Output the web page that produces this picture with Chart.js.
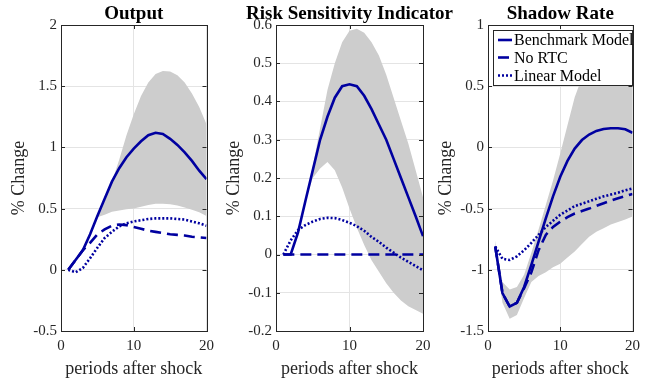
<!DOCTYPE html>
<html>
<head>
<meta charset="utf-8">
<script src="https://cdn.jsdelivr.net/npm/chart.js@4.4.0/dist/chart.umd.min.js"></script>
<style>
  body { margin: 0; background: #fff; overflow: hidden; }
  #wrap { position: relative; width: 646px; height: 383px; }
  canvas { position: absolute; top: 0; }
</style>
</head>
<body>
<div id="wrap">
  <canvas id="outputChart" width="220" height="383" style="left:0px"></canvas>
  <canvas id="riskChart" width="243" height="383" style="left:215px"></canvas>
  <canvas id="shadowChart" width="219" height="383" style="left:427px"></canvas>
</div>
<script>
// impulse responses, periods 1..20
const periods = [1, 2, 3, 4, 5, 6, 7, 8, 9, 10, 11, 12, 13, 14, 15, 16, 17, 18, 19, 20];
const seriesLabels = ['Benchmark Model', 'No RTC', 'Linear Model'];

const outputBenchmark = [0, 0.08, 0.16, 0.29, 0.44, 0.58, 0.72, 0.83, 0.92, 0.99, 1.05, 1.10, 1.12, 1.11, 1.07, 1.02, 0.96, 0.89, 0.81, 0.74];
const outputNoRtc = [0, 0.08, 0.16, 0.22, 0.29, 0.33, 0.36, 0.37, 0.365, 0.35, 0.335, 0.32, 0.31, 0.30, 0.29, 0.285, 0.28, 0.27, 0.265, 0.26];
const outputLinear = [0, -0.02, 0.015, 0.095, 0.18, 0.26, 0.31, 0.355, 0.38, 0.395, 0.405, 0.415, 0.42, 0.42, 0.42, 0.415, 0.41, 0.395, 0.38, 0.36];
const outputUpper = [0, 0.08, 0.16, 0.29, 0.45, 0.56, 0.72, 0.90, 1.10, 1.27, 1.42, 1.53, 1.60, 1.625, 1.62, 1.59, 1.53, 1.44, 1.33, 1.19];
const outputLower = [0, 0.08, 0.16, 0.29, 0.43, 0.45, 0.475, 0.485, 0.495, 0.50, 0.515, 0.53, 0.54, 0.54, 0.535, 0.525, 0.51, 0.49, 0.47, 0.44];

const riskBenchmark = [0, 0, 0.058, 0.14, 0.22, 0.30, 0.36, 0.41, 0.44, 0.445, 0.44, 0.415, 0.38, 0.34, 0.30, 0.25, 0.20, 0.15, 0.10, 0.048];
const riskNoRtc = [0, 0, 0, 0, 0, 0, 0, 0, 0, 0, 0, 0, 0, 0, 0, 0, 0, 0, 0, 0];
const riskLinear = [0, 0.037, 0.064, 0.077, 0.086, 0.093, 0.096, 0.095, 0.09, 0.083, 0.074, 0.062, 0.046, 0.033, 0.018, 0.005, -0.008, -0.019, -0.03, -0.041];
const riskUpper = [0, 0, 0.058, 0.14, 0.23, 0.33, 0.43, 0.50, 0.555, 0.585, 0.59, 0.58, 0.555, 0.52, 0.47, 0.41, 0.35, 0.29, 0.22, 0.15];
const riskLower = [0, 0, 0.058, 0.14, 0.20, 0.225, 0.242, 0.22, 0.175, 0.12, 0.07, 0.025, -0.015, -0.045, -0.075, -0.10, -0.12, -0.135, -0.145, -0.155];

const shadowBenchmark = [-0.81, -1.19, -1.30, -1.27, -1.14, -0.96, -0.77, -0.58, -0.40, -0.24, -0.11, -0.01, 0.06, 0.105, 0.135, 0.15, 0.157, 0.157, 0.148, 0.12];
const shadowNoRtc = [-0.81, -1.19, -1.30, -1.27, -1.15, -1.02, -0.84, -0.715, -0.65, -0.606, -0.57, -0.54, -0.52, -0.5, -0.478, -0.456, -0.435, -0.415, -0.397, -0.38];
const shadowLinear = [-0.81, -0.91, -0.92, -0.89, -0.84, -0.78, -0.715, -0.65, -0.60, -0.55, -0.515, -0.48, -0.46, -0.44, -0.42, -0.40, -0.385, -0.37, -0.35, -0.335];
const shadowUpper = [-0.76, -1.10, -1.16, -1.14, -1.04, -0.86, -0.67, -0.47, -0.27, -0.05, 0.18, 0.41, 0.57, 0.69, 0.77, 0.83, 0.87, 0.89, 0.89, 0.87];
const shadowLower = [-0.85, -1.27, -1.40, -1.37, -1.23, -1.10, -1.05, -1.02, -0.98, -0.95, -0.90, -0.85, -0.79, -0.73, -0.69, -0.66, -0.63, -0.61, -0.59, -0.565];

const lineBlue = '#0000a0';
const bandGray = 'rgb(205,205,205)';
const axisInk = '#262626';
const serif = '"Liberation Serif", "Times New Roman", serif';

function toPoints(values) {
    return periods.map((p, i) => ({ x: p, y: values[i] }));
}

// MATLAB prints 1 and 2, not 1.0 and 2.0
function tickText(value) {
    return String(Number(value.toFixed(2)));
}

// title, box, inner ticks and (optionally) legend, MATLAB style
const matlabAxes = {
    id: 'matlabAxes',
    afterDraw(chart, args, opts) {
        const ctx = chart.ctx;
        const area = chart.chartArea;
        const xs = chart.scales.x;
        const ys = chart.scales.y;
        ctx.save();

        ctx.fillStyle = '#000';
        ctx.font = 'bold 19px ' + serif;
        ctx.textAlign = 'center';
        ctx.textBaseline = 'alphabetic';
        ctx.fillText(opts.title, (area.left + area.right) / 2, 19);

        ctx.strokeStyle = axisInk;
        ctx.lineWidth = 1;
        ctx.beginPath();
        xs.ticks.forEach(t => {
            const px = Math.round(xs.getPixelForValue(t.value)) + 0.5;
            ctx.moveTo(px, area.bottom); ctx.lineTo(px, area.bottom - 4);
            ctx.moveTo(px, area.top); ctx.lineTo(px, area.top + 4);
        });
        ys.ticks.forEach(t => {
            const py = Math.round(ys.getPixelForValue(t.value)) + 0.5;
            ctx.moveTo(area.left, py); ctx.lineTo(area.left + 4, py);
            ctx.moveTo(area.right, py); ctx.lineTo(area.right - 4, py);
        });
        ctx.stroke();
        ctx.strokeRect(Math.round(area.left) + 0.5, Math.round(area.top) + 0.5,
            Math.round(area.right - area.left), Math.round(area.bottom - area.top));

        if (opts.legend) {
            const bx = area.left + 5, by = area.top + 5;
            ctx.fillStyle = '#fff';
            ctx.fillRect(bx, by, 139, 55);
            ctx.strokeRect(bx + 0.5, by + 0.5, 139, 55);
            ctx.font = '16px ' + serif;
            ctx.textAlign = 'left';
            ctx.textBaseline = 'middle';
            const rows = [15, 32.5, 50.5];
            seriesLabels.forEach((label, i) => {
                const ds = chart.data.datasets[i];
                const y = area.top + rows[i];
                ctx.strokeStyle = ds.borderColor;
                ctx.lineWidth = ds.borderWidth;
                ctx.setLineDash(ds.borderDash || []);
                ctx.beginPath();
                ctx.moveTo(area.left + 10, y);
                ctx.lineTo(area.left + 24, y);
                ctx.stroke();
                ctx.setLineDash([]);
                ctx.fillStyle = '#000';
                ctx.fillText(label, area.left + 26, y + 1);
            });
        }
        ctx.restore();
    }
};

function makePanel(id, title, yMin, yMax, yStep, bench, noRtc, linear, upper, lower, legend, padRight) {
    const ctx = document.getElementById(id);
    return new Chart(ctx.getContext('2d'), {
        type: 'line',
        data: {
            datasets: [
                { label: seriesLabels[0], data: toPoints(bench), borderColor: lineBlue, borderWidth: 2.6, fill: false },
                { label: seriesLabels[1], data: toPoints(noRtc), borderColor: lineBlue, borderWidth: 2.6, borderDash: [11, 6], fill: false },
                { label: seriesLabels[2], data: toPoints(linear), borderColor: lineBlue, borderWidth: 2.6, borderDash: [2, 2], fill: false },
                { label: 'upper', data: toPoints(upper), borderWidth: 0, borderColor: bandGray, backgroundColor: bandGray, fill: '+1' },
                { label: 'lower', data: toPoints(lower), borderWidth: 0, borderColor: bandGray, fill: false }
            ]
        },
        options: {
            responsive: false,
            animation: false,
            devicePixelRatio: 1,
            layout: { padding: { top: 25, right: padRight, left: 0, bottom: 0 } },
            elements: { point: { radius: 0 }, line: { tension: 0 } },
            plugins: {
                legend: { display: false },
                tooltip: { enabled: false },
                matlabAxes: { title: title, legend: legend }
            },
            scales: {
                x: {
                    type: 'linear', min: 0, max: 20,
                    ticks: { stepSize: 10, padding: 6, color: axisInk, font: { family: serif, size: 15 }, callback: tickText },
                    grid: { color: '#e4e4e4', drawTicks: false },
                    border: { display: false },
                    title: { display: true, text: 'periods after shock', color: axisInk,
                        font: { family: serif, size: 18 }, padding: { top: 0, bottom: 3 } },
                    afterFit: scale => { scale.height = 52; }
                },
                y: {
                    min: yMin, max: yMax,
                    ticks: { stepSize: yStep, padding: 4, color: axisInk, font: { family: serif, size: 15 }, callback: tickText },
                    grid: { color: '#e4e4e4', drawTicks: false },
                    border: { display: false },
                    title: { display: true, text: '% Change', color: axisInk,
                        font: { family: serif, size: 18 }, padding: { top: 8, bottom: 0 } },
                    afterFit: scale => { scale.width = 61; }
                }
            }
        },
        plugins: [matlabAxes]
    });
}

makePanel('outputChart', 'Output', -0.5, 2, 0.5,
    outputBenchmark, outputNoRtc, outputLinear, outputUpper, outputLower, false, 9);
makePanel('riskChart', 'Risk Sensitivity Indicator', -0.2, 0.6, 0.1,
    riskBenchmark, riskNoRtc, riskLinear, riskUpper, riskLower, false, 35);
makePanel('shadowChart', 'Shadow Rate', -1.5, 1, 0.5,
    shadowBenchmark, shadowNoRtc, shadowLinear, shadowUpper, shadowLower, true, 9);
</script>
</body>
</html>
